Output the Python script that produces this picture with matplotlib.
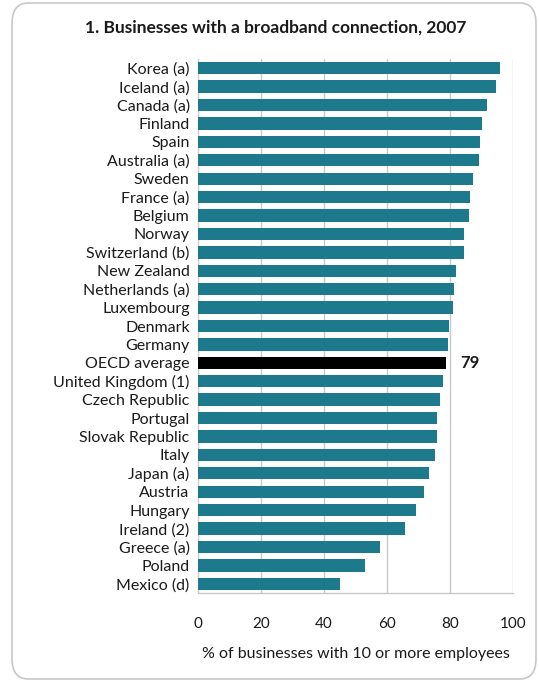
import matplotlib
matplotlib.use("Agg")
import matplotlib.pyplot as plt
from matplotlib.patches import FancyBboxPatch

plt.rcParams['font.family'] = ['Lato', 'DejaVu Sans']

countries = ["Korea (a)", "Iceland (a)", "Canada (a)", "Finland", "Spain", "Australia (a)",
             "Sweden", "France (a)", "Belgium", "Norway", "Switzerland (b)", "New Zealand",
             "Netherlands (a)", "Luxembourg", "Denmark", "Germany", "OECD average",
             "United Kingdom (1)", "Czech Republic", "Portugal", "Slovak Republic", "Italy",
             "Japan (a)", "Austria", "Hungary", "Ireland (2)", "Greece (a)", "Poland", "Mexico (d)"]
values = [95.9, 94.6, 91.7, 90.0, 89.6, 89.2, 87.2, 86.3, 85.9, 84.6, 84.6, 81.8,
          81.4, 80.8, 79.7, 79.3, 78.8, 77.9, 76.8, 76.0, 75.8, 75.1, 73.4, 71.7,
          69.3, 65.6, 57.8, 53.1, 45.2]
highlight = "OECD average"
highlight_label = "79"
xticks = [0, 20, 40, 60, 80, 100]

W, H = 539, 683
fig = plt.figure(figsize=(W/100, H/100), dpi=100)

# rounded outer frame
frame = FancyBboxPatch((12/W, 4/H), (536-12)/W, (680-4)/H,
                       boxstyle="round,pad=0,rounding_size=0.03",
                       transform=fig.transFigure, fill=False,
                       edgecolor="#c8c8c8", linewidth=1.2)
fig.patches.append(frame)

ax = fig.add_axes([198/W, 1-593/H, (513-198)/W, (593-59)/H])
n = len(countries)
ypos = list(range(n))
colors = ["#000000" if c == highlight else "#1c7a8c" for c in countries]
ax.barh(ypos, values, height=0.67, color=colors, zorder=3)
ax.set_ylim(n-0.5, -0.5)
ax.set_xlim(0, 100)
ax.set_yticks(ypos)
ax.set_yticklabels(countries, fontsize=11.5, color="#1a1a1a")
ax.set_xticks(xticks)
ax.set_xticklabels([str(t) for t in xticks], fontsize=11, color="#1a1a1a")
ax.tick_params(axis='both', length=0)
ax.tick_params(axis='y', pad=6)
ax.tick_params(axis='x', pad=17)
ax.grid(axis='x', color="#c8c8c8", linewidth=1.0, zorder=0)
for s in ["top", "left", "right"]:
    ax.spines[s].set_visible(False)
ax.spines["bottom"].set_color("#c8c8c8")
ax.spines["bottom"].set_linewidth(1.0)

hi = countries.index(highlight)
ax.text(values[hi] + 4.5, hi, highlight_label, fontsize=12, fontweight='bold',
        va='center', ha='left', color="#1a1a1a")

ax.set_xlabel("% of businesses with 10 or more employees", fontsize=11.5,
              color="#1a1a1a", labelpad=12)

fig.text(276/W, 1-28/H, "1. Businesses with a broadband connection, 2007",
         fontsize=12.5, fontweight='bold', ha='center', va='center', color="#1a1a1a")

fig.savefig("out.png", dpi=100)
